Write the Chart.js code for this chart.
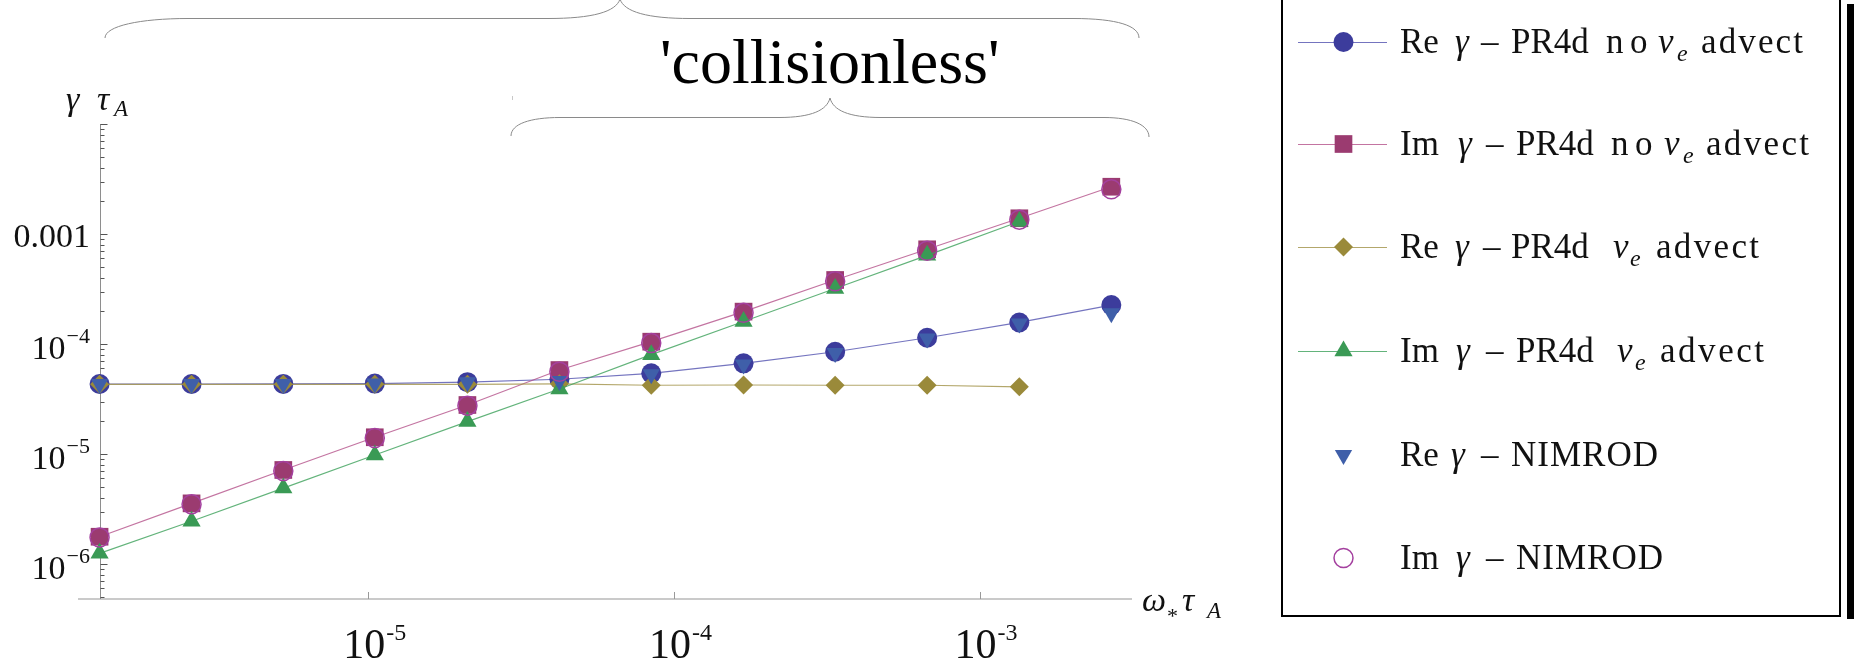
<!DOCTYPE html>
<html>
<head>
<meta charset="utf-8">
<script src="https://cdn.jsdelivr.net/npm/chart.js@4.4.1/dist/chart.umd.min.js"></script>
<style>
  html, body { margin: 0; padding: 0; background: #ffffff; overflow: hidden; }
  canvas { display: block; }
  .probe { position: absolute; left: -9999px; top: 0; font-family: "Liberation Serif"; }
</style>
</head>
<body>
<span class="probe">Re γ τ ω</span><span class="probe" style="font-style:italic">γ τ ω A</span>
<canvas id="growth" width="1855" height="670"></canvas>
<script>
// Normalised diamagnetic frequency ω* τA (doubling scan)
const omegaTauA = [1.32e-6, 2.64e-6, 5.27e-6, 1.05e-5, 2.11e-5, 4.22e-5, 8.43e-5, 1.69e-4, 3.37e-4, 6.74e-4, 1.35e-3, 2.70e-3];

// Growth rate γ τA, PR4d without electron advection
const reGammaNoAdvect = [4.33e-5, 4.33e-5, 4.34e-5, 4.37e-5, 4.5e-5, 4.78e-5, 5.41e-5, 6.67e-5, 8.5e-5, 1.14e-4, 1.57e-4, 2.26e-4];
const imGammaNoAdvect = [1.77e-6, 3.56e-6, 7.16e-6, 1.42e-5, 2.79e-5, 5.8e-5, 1.05e-4, 1.97e-4, 3.82e-4, 7.26e-4, 1.39e-3, 2.69e-3];

// PR4d with electron advection
const reGammaAdvect = [4.3e-5, 4.3e-5, 4.3e-5, 4.3e-5, 4.3e-5, 4.35e-5, 4.22e-5, 4.24e-5, 4.22e-5, 4.22e-5, 4.08e-5, null];
const imGammaAdvect = [1.25e-6, 2.45e-6, 4.9e-6, 9.8e-6, 1.97e-5, 3.9e-5, 8.0e-5, 1.6e-4, 3.2e-4, 6.4e-4, 1.3e-3, null];

// NIMROD results
const reGammaNimrod = [4.33e-5, 4.33e-5, 4.34e-5, 4.37e-5, 4.5e-5, 4.62e-5, 5.3e-5, 6.5e-5, 8.3e-5, 1.12e-4, 1.54e-4, 1.9e-4];
const imGammaNimrod = [1.74e-6, 3.5e-6, 7.0e-6, 1.4e-5, 2.75e-5, 5.6e-5, 1.02e-4, 1.92e-4, 3.72e-4, 7.05e-4, 1.35e-3, 2.55e-3];

// Axis ticks
const xTickValues = [1e-5, 1e-4, 1e-3];
const xTickExponents = ['-5', '-4', '-3'];
const yTickValues = [1e-3, 1e-4, 1e-5, 1e-6];
const yTickBases = ['0.001', '10', '10', '10'];
const yTickExponents = ['', '\u22124', '\u22125', '\u22126'];

const SERIF = '"Liberation Serif", "Times New Roman", Times, serif';
const font = (size, italic) => (italic ? 'italic ' : '') + size + 'px ' + SERIF;

const COLORS = {
  blue:   { mark: '#3c3c9c', line: 'rgba(70,70,170,0.75)' },
  purple: { mark: '#9b3b70', line: 'rgba(175,70,130,0.75)' },
  gold:   { mark: '#9a8a3a', line: 'rgba(160,145,70,0.8)' },
  green:  { mark: '#3a9a55', line: 'rgba(60,160,90,0.8)' },
  nimRe:  { mark: '#3f5fa9' },
  nimIm:  { mark: '#a4409f' }
};

const pts = arr => omegaTauA.map((x, i) => ({ x: x, y: arr[i] }));

const datasets = [
  { label: 'Re γ – PR4d no ve advect', data: pts(reGammaNoAdvect), order: 6,
    borderColor: COLORS.blue.line, borderWidth: 1.2, showLine: true,
    pointStyle: 'circle', pointRadius: 10, pointBackgroundColor: COLORS.blue.mark, pointBorderWidth: 0 },
  { label: 'Im γ – PR4d no ve advect', data: pts(imGammaNoAdvect), order: 5,
    borderColor: COLORS.purple.line, borderWidth: 1.2, showLine: true,
    pointStyle: 'rect', pointRadius: 12.5, pointBackgroundColor: COLORS.purple.mark, pointBorderWidth: 0 },
  { label: 'Re γ – PR4d ve advect', data: pts(reGammaAdvect), order: 4,
    borderColor: COLORS.gold.line, borderWidth: 1.2, showLine: true,
    pointStyle: 'rectRot', pointRadius: 9.5, pointBackgroundColor: COLORS.gold.mark, pointBorderWidth: 0 },
  { label: 'Im γ – PR4d ve advect', data: pts(imGammaAdvect), order: 3,
    borderColor: COLORS.green.line, borderWidth: 1.2, showLine: true,
    pointStyle: 'triangle', pointRadius: 10.5, pointBackgroundColor: COLORS.green.mark, pointBorderWidth: 0 },
  { label: 'Re γ – NIMROD', data: pts(reGammaNimrod), order: 2, showLine: false,
    pointStyle: 'triangle', pointRotation: 180, pointRadius: 10, pointBackgroundColor: COLORS.nimRe.mark, pointBorderWidth: 0 },
  { label: 'Im γ – NIMROD', data: pts(imGammaNimrod), order: 1, showLine: false,
    pointStyle: 'circle', pointRadius: 9.5, pointBackgroundColor: 'rgba(0,0,0,0)',
    pointBorderColor: COLORS.nimIm.mark, pointBorderWidth: 1.5 }
];
datasets.forEach(d => { d.clip = false; d.tension = 0; d.spanGaps = false; d.fill = false; });

// Legend rows: marker, colours and text runs [x, text, kind, rightEdge]
const legendRows = [
  { y: 42, style: 'circle', r: 10, fill: COLORS.blue.mark, line: COLORS.blue.line,
    runs: [[1400,'Re','r'],[1455,'γ','i'],[1481,'–','r'],[1511,'PR4d','r'],[1606,'n','r'],[1630,'o','r'],[1658,'v','i'],[1677,'e','s'],[1701,'advect','r',1803]] },
  { y: 144, style: 'rect', r: 12.5, fill: COLORS.purple.mark, line: COLORS.purple.line,
    runs: [[1400,'Im','r'],[1458,'γ','i'],[1486,'–','r'],[1516,'PR4d','r'],[1611,'n','r'],[1635,'o','r'],[1664,'v','i'],[1683,'e','s'],[1706,'advect','r',1809]] },
  { y: 247, style: 'rectRot', r: 9.5, fill: COLORS.gold.mark, line: COLORS.gold.line,
    runs: [[1400,'Re','r'],[1455,'γ','i'],[1483,'–','r'],[1511,'PR4d','r'],[1613,'v','i'],[1630,'e','s'],[1656,'advect','r',1759]] },
  { y: 351, style: 'triangle', r: 10.5, fill: COLORS.green.mark, line: COLORS.green.line,
    runs: [[1400,'Im','r'],[1456,'γ','i'],[1486,'–','r'],[1516,'PR4d','r'],[1617,'v','i'],[1635,'e','s'],[1660,'advect','r',1764]] },
  { y: 455, style: 'triangleDown', r: 10, fill: COLORS.nimRe.mark, line: null,
    runs: [[1400,'Re','r'],[1451,'γ','i'],[1481,'–','r'],[1511,'NIMROD','r',1658]] },
  { y: 558, style: 'open', r: 9.5, fill: null, stroke: COLORS.nimIm.mark, line: null,
    runs: [[1400,'Im','r'],[1456,'γ','i'],[1486,'–','r'],[1516,'NIMROD','r',1663]] }
];

function drawMarker(ctx, style, x, y, r) {
  ctx.beginPath();
  if (style === 'circle' || style === 'open') {
    ctx.arc(x, y, r, 0, Math.PI * 2);
  } else if (style === 'rect') {
    const s = r * Math.SQRT1_2;
    ctx.rect(x - s, y - s, 2 * s, 2 * s);
  } else if (style === 'rectRot') {
    ctx.moveTo(x - r, y); ctx.lineTo(x, y - r); ctx.lineTo(x + r, y); ctx.lineTo(x, y + r);
    ctx.closePath();
  } else if (style === 'triangle' || style === 'triangleDown') {
    let a = style === 'triangle' ? 0 : Math.PI;
    for (let k = 0; k < 3; k++) {
      const px = x + Math.sin(a) * r, py = y - Math.cos(a) * r;
      if (k === 0) ctx.moveTo(px, py); else ctx.lineTo(px, py);
      a += 2 * Math.PI / 3;
    }
    ctx.closePath();
  }
}

function drawRun(ctx, x, baseline, text, kind, right) {
  let size = 35, italic = false, dy = 0;
  if (kind === 'i') italic = true;
  if (kind === 's') { size = 24; italic = true; dy = 8; }
  ctx.font = font(size, italic);
  if (right === undefined || text.length < 2) {
    ctx.fillText(text, x, baseline + dy);
    return;
  }
  const natural = ctx.measureText(text).width;
  const gap = (right - x - natural) / (text.length - 1);
  let cx = x;
  for (const ch of text) {
    ctx.fillText(ch, cx, baseline + dy);
    cx += ctx.measureText(ch).width + gap;
  }
}

const decorations = {
  id: 'decorations',
  beforeDatasetsDraw(chart) {
    const { ctx, chartArea: a, scales: { x, y } } = chart;
    const x0 = Math.round(x.getPixelForValue(omegaTauA[0])) + 0.5;
    ctx.save();
    // horizontal axis
    ctx.strokeStyle = '#b8b8b8'; ctx.lineWidth = 1.5;
    ctx.beginPath(); ctx.moveTo(a.left, a.bottom); ctx.lineTo(a.right, a.bottom); ctx.stroke();
    // vertical axis through the first scan point
    ctx.strokeStyle = '#8e8e8e'; ctx.lineWidth = 1;
    ctx.beginPath(); ctx.moveTo(x0, a.top); ctx.lineTo(x0, a.bottom); ctx.stroke();
    // y ticks (decades and 2..9 sub-ticks)
    ctx.strokeStyle = '#555555';
    for (let d = -7; d <= -2; d++) {
      for (let k = 1; k <= 9; k++) {
        const v = k * Math.pow(10, d);
        if (v < y.min * 0.999 || v > y.max * 1.001) continue;
        const py = Math.round(y.getPixelForValue(v)) + 0.5;
        ctx.beginPath(); ctx.moveTo(x0, py); ctx.lineTo(x0 + (k === 1 ? 7 : 4), py); ctx.stroke();
      }
    }
    // x ticks
    ctx.strokeStyle = '#999999';
    xTickValues.forEach(v => {
      const px = Math.round(x.getPixelForValue(v)) + 0.5;
      ctx.beginPath(); ctx.moveTo(px, a.bottom); ctx.lineTo(px, a.bottom - 7); ctx.stroke();
    });
    ctx.restore();
  },
  afterDraw(chart) {
    const { ctx, scales: { x, y } } = chart;
    ctx.save();
    ctx.fillStyle = '#111111';
    ctx.textBaseline = 'alphabetic';
    ctx.textAlign = 'left';

    // y tick labels, right aligned against the axis
    yTickValues.forEach((v, i) => {
      const py = y.getPixelForValue(v);
      const right = 90;
      if (!yTickExponents[i]) {
        ctx.font = font(34);
        const w = ctx.measureText(yTickBases[i]).width;
        ctx.fillText(yTickBases[i], right - w, py + 12.5);
      } else {
        ctx.font = font(22);
        const ws = ctx.measureText(yTickExponents[i]).width;
        ctx.font = font(34);
        const wb = ctx.measureText(yTickBases[i]).width;
        ctx.fillText(yTickBases[i], right - ws - wb - 1, py + 15);
        ctx.font = font(22);
        ctx.fillText(yTickExponents[i], right - ws, py - 1);
      }
    });

    // x tick labels
    xTickValues.forEach((v, i) => {
      const px = x.getPixelForValue(v);
      ctx.font = font(42);
      const wb = ctx.measureText('10').width;
      const left = px - 4 - wb / 2;
      ctx.fillText('10', left, 658);
      ctx.font = font(24);
      ctx.fillText(xTickExponents[i], left + wb + 1, 640);
    });

    // axis titles
    ctx.font = font(34, true);
    ctx.fillText('γ', 66, 110);
    ctx.fillText('τ', 97, 110);
    ctx.font = font(23, true);
    ctx.fillText('A', 114, 116);

    ctx.font = font(34, true);
    ctx.fillText('ω', 1142, 611);
    ctx.font = font(22);
    ctx.fillText('*', 1167, 623);
    ctx.font = font(34, true);
    ctx.fillText('τ', 1182, 611);
    ctx.font = font(23, true);
    ctx.fillText('A', 1207, 618);

    // regime braces
    ctx.strokeStyle = '#8a8a8a'; ctx.lineWidth = 1;
    ctx.beginPath();
    ctx.moveTo(105, 38);
    ctx.bezierCurveTo(105, 26, 140, 18.5, 188, 18.5);
    ctx.lineTo(548, 18.5);
    ctx.bezierCurveTo(592, 18.5, 616, 12, 620, -1);
    ctx.moveTo(620, -1);
    ctx.bezierCurveTo(624, 12, 648, 18.5, 690, 18.5);
    ctx.lineTo(1073, 18.5);
    ctx.bezierCurveTo(1118, 18.5, 1139, 26, 1139, 38);
    ctx.stroke();

    ctx.beginPath();
    ctx.moveTo(511, 136);
    ctx.bezierCurveTo(511, 124, 530, 117.5, 560, 117.5);
    ctx.lineTo(779, 117.5);
    ctx.bezierCurveTo(812, 117.5, 827, 110, 830, 98);
    ctx.moveTo(830, 98);
    ctx.bezierCurveTo(833, 110, 848, 117.5, 881, 117.5);
    ctx.lineTo(1104, 117.5);
    ctx.bezierCurveTo(1132, 117.5, 1149, 125, 1149, 137);
    ctx.stroke();

    ctx.strokeStyle = '#c8c8c8';
    ctx.beginPath(); ctx.moveTo(512.5, 96); ctx.lineTo(512.5, 100); ctx.stroke();

    ctx.fillStyle = '#000000';
    ctx.font = font(64);
    ctx.fillText("'collisionless'", 660, 83);

    // legend box with drop shadow
    ctx.fillStyle = '#000000';
    ctx.fillRect(1847, 4, 7, 615);
    ctx.fillStyle = '#ffffff';
    ctx.fillRect(1282, -5, 558, 621);
    ctx.strokeStyle = '#000000'; ctx.lineWidth = 2;
    ctx.strokeRect(1282, -5, 558, 621);

    legendRows.forEach(row => {
      if (row.line) {
        ctx.strokeStyle = row.line; ctx.lineWidth = 1.2;
        ctx.beginPath(); ctx.moveTo(1298, row.y + 0.5); ctx.lineTo(1387, row.y + 0.5); ctx.stroke();
      }
      drawMarker(ctx, row.style, 1343.5, row.y, row.r);
      if (row.fill) { ctx.fillStyle = row.fill; ctx.fill(); }
      if (row.stroke) { ctx.strokeStyle = row.stroke; ctx.lineWidth = 1.5; ctx.stroke(); }
      ctx.fillStyle = '#111111';
      row.runs.forEach(r => drawRun(ctx, r[0], row.y + 11, r[1], r[2], r[3]));
    });
    ctx.restore();
  }
};

function build() {
  new Chart(document.getElementById('growth'), {
    type: 'scatter',
    data: { datasets: datasets },
    options: {
      responsive: false,
      animation: false,
      devicePixelRatio: 1,
      layout: { padding: { left: 78, right: 723, top: 124, bottom: 71 } },
      plugins: { legend: { display: false }, tooltip: { enabled: false } },
      scales: {
        x: { type: 'logarithmic', min: Math.pow(10, -5.95), max: Math.pow(10, -2.501), display: false },
        y: { type: 'logarithmic', min: Math.pow(10, -6.318), max: 1e-2, display: false }
      }
    },
    plugins: [decorations]
  });
}

// make sure the serif face is ready before drawing text onto the canvas
const serifReady = Promise.all([
  document.fonts.load('34px "Liberation Serif"', 'Re γ'),
  document.fonts.load('italic 34px "Liberation Serif"', 'γ τ ω A')
]).catch(() => null);
Promise.race([serifReady, new Promise(res => setTimeout(res, 1500))]).then(build);
</script>
</body>
</html>
